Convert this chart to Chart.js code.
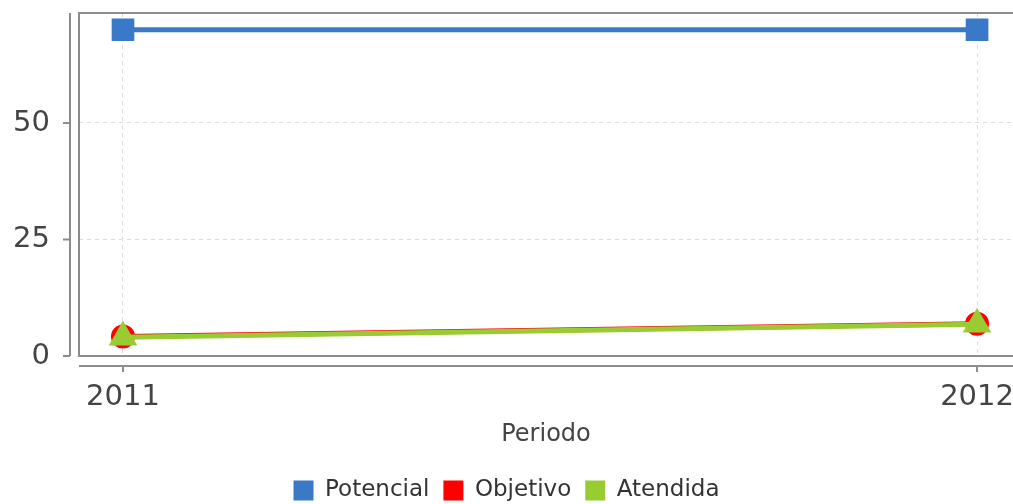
<!DOCTYPE html>
<html>
<head>
<meta charset="utf-8">
<script src="https://cdn.jsdelivr.net/npm/chart.js@4/dist/chart.umd.min.js"></script>
<style>
  html, body { margin: 0; padding: 0; background: #fff; }
  #wrap { width: 1013px; height: 504px; }
</style>
</head>
<body>
<div id="wrap"><canvas id="chartPeriodo"></canvas></div>
<script>
var periods = [2011, 2012];
var potencial = [70, 70];
var objetivo = [4.2, 6.9];
var atendida = [4, 6.8];
var yTicks = [0, 25, 50];
var seriesNames = ['Potencial', 'Objetivo', 'Atendida'];

function points(values) {
    return periods.map(function (p, i) { return { x: p, y: values[i] }; });
}

// plot box and the detached axis lines
var framePlugin = {
    id: 'frame',
    beforeDatasetsDraw: function (chart) {
        var ctx = chart.ctx, a = chart.chartArea, sx = chart.scales.x, sy = chart.scales.y;
        var edge = chart.width + 2;
        ctx.save();
        ctx.strokeStyle = '#8c8c8c';
        ctx.lineWidth = 2;
        ctx.beginPath();
        ctx.moveTo(edge, a.top);
        ctx.lineTo(a.left, a.top);
        ctx.lineTo(a.left, a.bottom);
        ctx.lineTo(edge, a.bottom);
        ctx.stroke();
        var yx = a.left - 9;
        var xy = a.bottom + 10;
        ctx.beginPath();
        ctx.moveTo(yx, a.top);
        ctx.lineTo(yx, a.bottom);
        sy.ticks.forEach(function (t) {
            var py = sy.getPixelForValue(t.value);
            ctx.moveTo(yx - 7, py);
            ctx.lineTo(yx, py);
        });
        ctx.moveTo(a.left, xy);
        ctx.lineTo(edge, xy);
        sx.ticks.forEach(function (t) {
            var px = sx.getPixelForValue(t.value);
            ctx.moveTo(px, xy);
            ctx.lineTo(px, xy + 6);
        });
        ctx.stroke();
        ctx.restore();
    }
};

const ctx = document.getElementById('chartPeriodo');
new Chart(ctx, {
    type: 'line',
    data: {
        datasets: [
            {
                label: seriesNames[0],
                data: points(potencial),
                borderColor: '#3a78c8',
                backgroundColor: '#3a78c8',
                borderWidth: 5,
                pointStyle: 'rect',
                pointRadius: 12.5,
                order: 2
            },
            {
                label: seriesNames[1],
                data: points(objetivo),
                borderColor: '#ff0000',
                backgroundColor: '#ff0000',
                borderWidth: 5,
                pointStyle: 'circle',
                pointRadius: 9.5,
                order: 1
            },
            {
                label: seriesNames[2],
                data: points(atendida),
                borderColor: '#99cc33',
                backgroundColor: '#99cc33',
                borderWidth: 5,
                pointStyle: 'triangle',
                pointRadius: 11.5,
                order: 0
            }
        ]
    },
    options: {
        responsive: true,
        maintainAspectRatio: false,
        animation: false,
        layout: {
            autoPadding: false,
            padding: { left: 0, right: 0, top: 13, bottom: -8 }
        },
        elements: {
            point: { borderWidth: 0, hoverRadius: 12 },
            line: { tension: 0 }
        },
        plugins: {
            legend: {
                position: 'bottom',
                labels: {
                    boxWidth: 20,
                    boxHeight: 20,
                    padding: 14,
                    color: '#333',
                    font: { family: 'DejaVu Sans', size: 23 },
                    sort: function (a, b) { return a.datasetIndex - b.datasetIndex; },
                    generateLabels: function (chart) {
                        return Chart.defaults.plugins.legend.labels.generateLabels(chart).map(function (item) {
                            item.lineWidth = 0;
                            return item;
                        });
                    }
                }
            },
            tooltip: { enabled: false }
        },
        scales: {
            x: {
                type: 'linear',
                min: 2010.9485,
                max: 2012.0421,
                afterBuildTicks: function (scale) {
                    scale.ticks = periods.map(function (p) { return { value: p }; });
                },
                afterFit: function (scale) {
                    scale.height = 109;
                    scale.paddingLeft = 0;
                    scale.paddingRight = 0;
                },
                ticks: {
                    padding: 0,
                    color: '#444',
                    font: { family: 'DejaVu Sans', size: 29 },
                    maxRotation: 0,
                    callback: function (v) { return String(v); }
                },
                grid: { color: '#dcdcdc', lineWidth: 1, drawTicks: true, tickLength: 24, tickColor: 'rgba(0,0,0,0)' },
                border: { display: false, dash: [4, 4] },
                title: {
                    display: true,
                    text: 'Periodo',
                    color: '#444',
                    font: { family: 'DejaVu Sans', size: 24 },
                    padding: { top: 0, bottom: 16 }
                }
            },
            y: {
                min: 0,
                max: 73.6,
                afterBuildTicks: function (scale) {
                    scale.ticks = yTicks.map(function (v) { return { value: v }; });
                },
                afterFit: function (scale) {
                    scale.width = 79;
                    scale.paddingTop = 0;
                    scale.paddingBottom = 0;
                },
                ticks: {
                    padding: 0,
                    color: '#444',
                    font: { family: 'DejaVu Sans', size: 29, lineHeight: 0.4 }
                },
                grid: { color: '#dcdcdc', lineWidth: 1, drawTicks: true, tickLength: 29, tickColor: 'rgba(0,0,0,0)' },
                border: { display: false, dash: [4, 4] }
            }
        }
    },
    plugins: [framePlugin]
});
</script>
</body>
</html>
